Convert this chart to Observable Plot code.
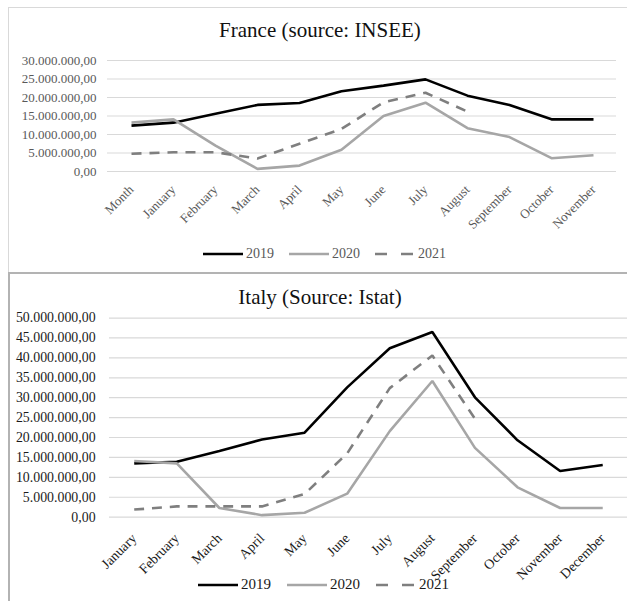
<!DOCTYPE html>
<html><head><meta charset="utf-8">
<script src="https://cdn.jsdelivr.net/npm/d3@7"></script>
<script src="https://cdn.jsdelivr.net/npm/@observablehq/plot@0.6"></script>
<style>
html,body{margin:0;padding:0;background:#fff;overflow:hidden;}
#root{position:relative;width:627px;height:601px;overflow:hidden;font-family:"Liberation Serif","Times New Roman",serif;}
.abs{position:absolute;}
.title{position:absolute;left:0;width:640px;text-align:center;font-size:21px;color:#111;line-height:1;}
.legend{position:absolute;display:flex;align-items:center;white-space:nowrap;line-height:1;}
.legend svg{display:block;}
</style>
</head><body>
<div id="root">
  <div class="abs" style="left:8px;top:7px;width:640px;height:264px;border:1px solid #d9d9d9;"></div>
  <div class="abs" style="left:8px;top:272px;width:640px;height:340px;border-top:2px solid #b3b3b3;border-left:2px solid #b3b3b3;"></div>
  <div id="fr" class="abs" style="left:0;top:0;"></div>
  <div id="it" class="abs" style="left:0;top:272px;"></div>
  <div class="title" style="top:20px;">France (source: INSEE)</div>
  <div class="title" style="top:287px;">Italy (Source: Istat)</div>
  <div id="frLegend" class="legend" style="left:203px;top:247px;font-size:14px;color:#595959;"></div>
  <div id="itLegend" class="legend" style="left:198px;top:577px;font-size:15px;color:#1a1a1a;"></div>
</div>
<script>
// ---------- France data ----------
const franceMonths = ["Month","January","February","March","April","May","June","July","August","September","October","November"];
const france2019 = [12400000,13200000,15600000,18000000,18500000,21700000,23200000,24900000,20500000,18000000,14100000,14100000];
const france2020 = [13200000,14100000,7000000,700000,1600000,5900000,15000000,18600000,11700000,9300000,3600000,4400000];
const france2021 = [4800000,5200000,5200000,3500000,7500000,11500000,18700000,21300000,16200000];
const franceTicks = [0,5000000,10000000,15000000,20000000,25000000,30000000];

// ---------- Italy data ----------
const italyMonths = ["January","February","March","April","May","June","July","August","September","October","November","December"];
const italy2019 = [13500000,13900000,16600000,19500000,21200000,32600000,42400000,46500000,30100000,19300000,11600000,13100000];
const italy2020 = [14100000,13500000,2300000,500000,1100000,5900000,21600000,34200000,17400000,7500000,2300000,2300000];
const italy2021 = [1900000,2700000,2700000,2700000,5800000,16000000,32400000,40600000,24700000];
const italyTicks = [0,5000000,10000000,15000000,20000000,25000000,30000000,35000000,40000000,45000000,50000000];

const years = ["2019","2020","2021"];
const styles = {
  "2019": {stroke:"#000000", strokeWidth:2.6, dash:null},
  "2020": {stroke:"#a6a6a6", strokeWidth:2.6, dash:null},
  "2021": {stroke:"#7f7f7f", strokeWidth:2.6, dash:"10,8"}
};

const loc = d3.formatLocale({decimal:",", thousands:".", grouping:[3], currency:["",""]});
const fmt = loc.format(",.2f");

function rows(months, values, year) {
  return values.map((v, i) => ({month: months[i], value: v, year}));
}

function lineMarks(months, series) {
  return series.map(([vals, yr]) => Plot.line(rows(months, vals, yr), {
    x: "month", y: "value",
    stroke: styles[yr].stroke, strokeWidth: styles[yr].strokeWidth,
    strokeDasharray: styles[yr].dash || undefined,
    strokeLinejoin: "miter", strokeLinecap: "butt"
  }));
}

const fr = Plot.plot({
  width: 627, height: 272,
  marginLeft: 107, marginRight: 11, marginTop: 60, marginBottom: 101,
  style: {fontFamily: '"Liberation Serif","Times New Roman",serif', background: "transparent"},
  x: {type: "point", domain: franceMonths, padding: 0.5, axis: null},
  y: {domain: [0, 30000000], axis: null},
  marks: [
    Plot.ruleY(franceTicks, {stroke: "#d9d9d9", strokeWidth: 1.2}),
    Plot.text(franceTicks, {y: d => d, text: d => fmt(d), frameAnchor: "left", textAnchor: "end", dx: -11, fill: "#595959", fontSize: 13}),
    Plot.text(franceMonths, {x: d => d, text: d => d, frameAnchor: "bottom", rotate: -45, textAnchor: "end", lineAnchor: "middle", dx: 0, dy: 16, fill: "#595959", fontSize: 13}),
    ...lineMarks(franceMonths, [[france2019, "2019"], [france2020, "2020"], [france2021, "2021"]])
  ]
});
document.getElementById("fr").appendChild(fr);

const it = Plot.plot({
  width: 633, height: 329,
  marginLeft: 110, marginRight: 0, marginTop: 46, marginBottom: 82,
  style: {fontFamily: '"Liberation Serif","Times New Roman",serif', background: "transparent"},
  x: {type: "point", domain: italyMonths, padding: 0.5, axis: null},
  y: {domain: [0, 50000000], axis: null},
  marks: [
    Plot.ruleY(italyTicks, {stroke: "#d9d9d9", strokeWidth: 1.2}),
    Plot.text(italyTicks, {y: d => d, text: d => fmt(d), frameAnchor: "left", textAnchor: "end", dx: -14, fill: "#1a1a1a", fontSize: 14}),
    Plot.text(italyMonths, {x: d => d, text: d => d, frameAnchor: "bottom", rotate: -45, textAnchor: "end", lineAnchor: "middle", dx: 0, dy: 19, fill: "#1a1a1a", fontSize: 14}),
    ...lineMarks(italyMonths, [[italy2019, "2019"], [italy2020, "2020"], [italy2021, "2021"]])
  ]
});
document.getElementById("it").appendChild(it);

function legend(el, gapAfter) {
  years.forEach((yr, i) => {
    const s = styles[yr];
    const item = document.createElement("span");
    item.style.display = "flex";
    item.style.alignItems = "center";
    item.style.marginRight = i < years.length - 1 ? gapAfter + "px" : "0";
    item.innerHTML = `<svg width="40" height="8"><line x1="0" y1="4" x2="40" y2="4" stroke="${s.stroke}" stroke-width="${s.strokeWidth}" ${s.dash ? `stroke-dasharray="12,14"` : ""}/></svg><span style="margin-left:3px">${yr}</span>`;
    el.appendChild(item);
  });
}
legend(document.getElementById("frLegend"), 15);
legend(document.getElementById("itLegend"), 16);
</script>
</body></html>
